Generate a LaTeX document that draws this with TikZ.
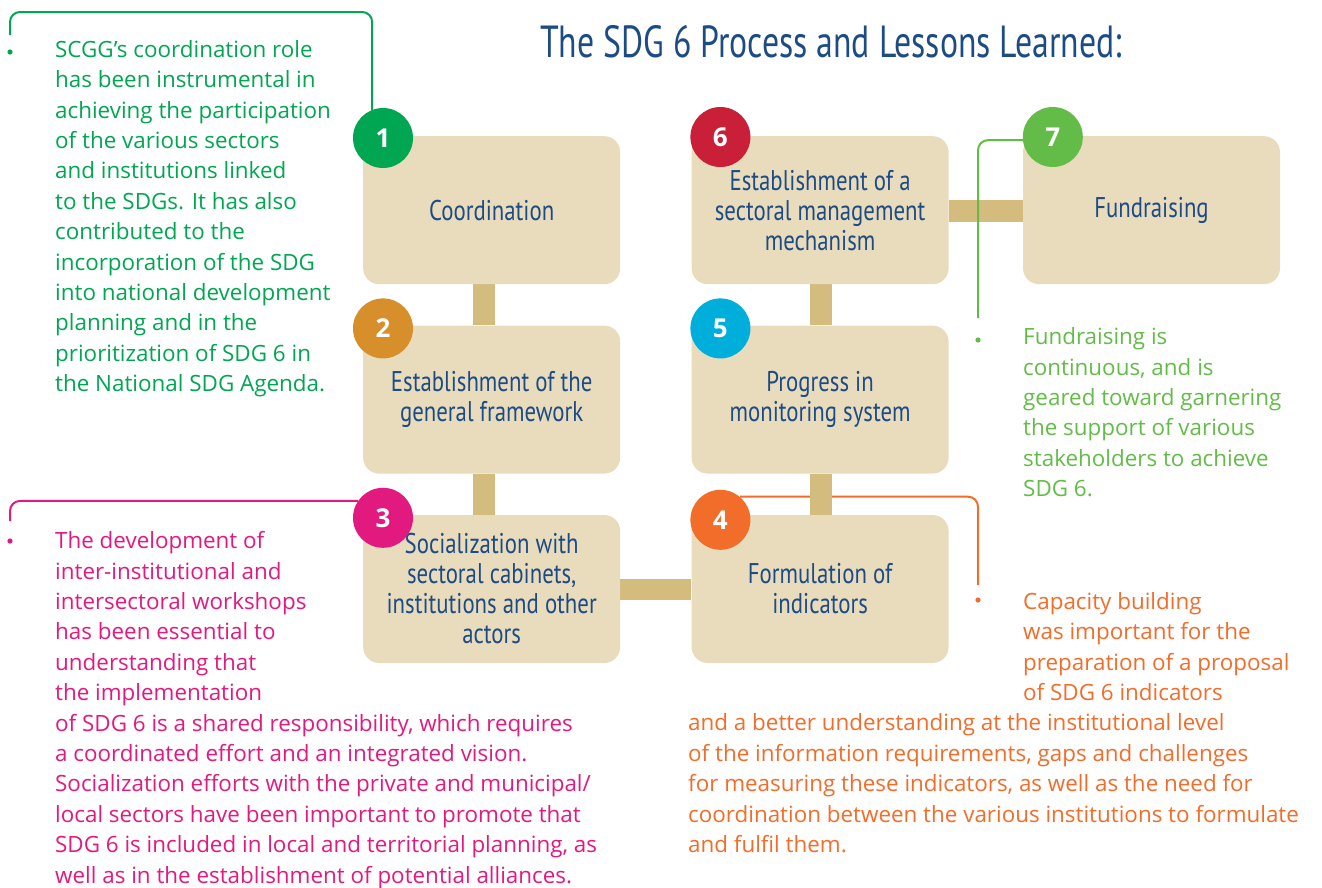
\documentclass[tikz,border=0pt]{standalone}
\usepackage{fontspec}
\setmainfont{Open Sans}
\newfontfamily\condfont{PT Sans}[FakeStretch=0.8]
\newfontfamily\titlefont{PT Sans}[FakeStretch=0.75]
\usetikzlibrary{positioning}
\usetikzlibrary{calc}
\usetikzlibrary{backgrounds}

\definecolor{boxtan}{HTML}{E9DCBC}
\definecolor{bartan}{HTML}{D4BB7E}
\definecolor{sdgblue}{HTML}{1D4B84}
\definecolor{sdggreen}{HTML}{00A651}
\definecolor{sdgochre}{HTML}{D68F2B}
\definecolor{sdgpink}{HTML}{E2197F}
\definecolor{sdgorange}{HTML}{F26C2A}
\definecolor{sdgcyan}{HTML}{00AEDC}
\definecolor{sdgred}{HTML}{C91F39}
\definecolor{sdglime}{HTML}{63BC48}

\begin{document}
\begin{tikzpicture}[x=1pt,y=-1pt]
  \tikzset{stepbox/.style={rounded corners=16pt,fill=boxtan,minimum width=257pt,minimum height=148pt,
             inner sep=0pt,align=center,text=sdgblue,font=\condfont\fontsize{28.5}{30}\selectfont},
           numdot/.style={circle,fill=#1,minimum size=60pt,inner sep=0pt,text=white,
             font=\bfseries\fontsize{26}{26}\selectfont},
           linkbar/.style={fill=bartan},
           note/.style={draw=#1,line width=2pt,rounded corners=10pt},
           notetext/.style={anchor=base west,inner sep=0pt,align=left,text=#1,
             font=\fontsize{22.4}{30.4}\selectfont},
           dot/.style={fill=#1}}
  \useasboundingbox (0,0) rectangle (1322,887);

  \node[anchor=base,text=sdgblue,font=\titlefont\fontsize{45}{45}\selectfont] (title) at (831,57)
    {The SDG 6 Process and Lessons Learned:};

  % the seven steps
  \node[stepbox,anchor=north west] (box1) at (363,136) {Coordination};
  \node[stepbox,below=41pt of box1] (box2) {Establishment of the\\general framework};
  \node[stepbox,below=41pt of box2] (box3) {Socialization with\\sectoral cabinets,\\institutions and other\\actors};
  \node[stepbox,right=71pt of box1] (box6) {Establishment of a\\sectoral management\\mechanism};
  \node[stepbox,below=41pt of box6] (box5) {Progress in\\monitoring system};
  \node[stepbox,below=41pt of box5] (box4) {Formulation of\\indicators};
  \node[stepbox,right=74pt of box6] (box7) {Fundraising};

  \node[numdot=sdggreen] (n1) at ([shift={(20pt,-2pt)}]box1.north west) {1};
  \node[numdot=sdgochre] (n2) at ([shift={(20pt,-3pt)}]box2.north west) {2};
  \node[numdot=sdgpink] (n3) at ([shift={(20pt,-3pt)}]box3.north west) {3};
  \node[numdot=sdgorange] (n4) at ([shift={(29pt,-5pt)}]box4.north west) {4};
  \node[numdot=sdgcyan] (n5) at ([shift={(29pt,-3pt)}]box5.north west) {5};
  \node[numdot=sdgred] (n6) at ([shift={(29pt,-1pt)}]box6.north west) {6};
  \node[numdot=sdglime] (n7) at ([shift={(30pt,-1pt)}]box7.north west) {7};

  % lessons learned (placed by the baseline of their last line)
  \node[notetext=sdggreen] (t1) at (55,391.7) {SCGG’s coordination role\\has been instrumental in\\achieving the participation\\of the various sectors\\and institutions linked\\to the SDGs. It has also\\contributed to the\\incorporation of the SDG\\into national development\\planning and in the\\prioritization of SDG 6 in\\the National SDG Agenda.};
  \node[notetext=sdglime] (t7) at (1023,496.7) {Fundraising is\\continuous, and is\\geared toward garnering\\the support of various\\stakeholders to achieve\\SDG 6.};
  \node[notetext=sdgorange] (t4) at (1023,700.5) {Capacity building\\was important for the\\preparation of a proposal\\of SDG 6 indicators};
  \node[notetext=sdgorange] (t4b) at (688,852.5) {and a better understanding at the institutional level\\of the information requirements, gaps and challenges\\for measuring these indicators, as well as the need for\\coordination between the various institutions to formulate\\and fulfil them.};
  \node[notetext=sdgpink] (t3) at (55,883) {The development of\\inter-institutional and\\intersectoral workshops\\has been essential to\\understanding that\\the implementation\\of SDG 6 is a shared responsibility, which requires\\a coordinated effort and an integrated vision.\\Socialization efforts with the private and municipal/\\local sectors have been important to promote that\\SDG 6 is included in local and territorial planning, as\\well as in the establishment of potential alliances.};

  \coordinate (g1corner) at (10,12);
  \coordinate (g1end) at (10,35);
  \coordinate (l7end) at (978,318);
  \coordinate (o4end) at (978,585);
  \coordinate (p3end) at (10,521);

\begin{pgfonlayer}{background}
  \draw[note=sdggreen] (n1.111) |- (g1corner) -- (g1end);
  \draw[note=sdgorange] (n4.50) -| (o4end);
  \draw[note=sdgpink] (n3.146) -| (p3end);
  \fill[linkbar] ([xshift=-18.5pt]box1.south) rectangle ([xshift=3.5pt]box2.north);
  \fill[linkbar] ([xshift=-18.5pt]box2.south) rectangle ([xshift=3.5pt]box3.north);
  \fill[linkbar] ([xshift=-10.5pt]box6.south) rectangle ([xshift=11.5pt]box5.north);
  \fill[linkbar] ([xshift=-10.5pt]box5.south) rectangle ([xshift=11.5pt]box4.north);
  \fill[linkbar] ([yshift=10pt]box6.east) rectangle ([yshift=-12pt]box7.west);
  \fill[linkbar] ([yshift=10pt]box3.east) rectangle ([yshift=-11pt]box4.west);
  \draw[note=sdglime] (n7.186) -| (l7end);
\end{pgfonlayer}

  \fill[dot=sdggreen] (10,52) circle (2.6pt);
  \fill[dot=sdglime] (978,340) circle (2.6pt);
  \fill[dot=sdgorange] (978,600) circle (2.6pt);
  \fill[dot=sdgpink] (10,541) circle (2.6pt);
\end{tikzpicture}
\end{document}
